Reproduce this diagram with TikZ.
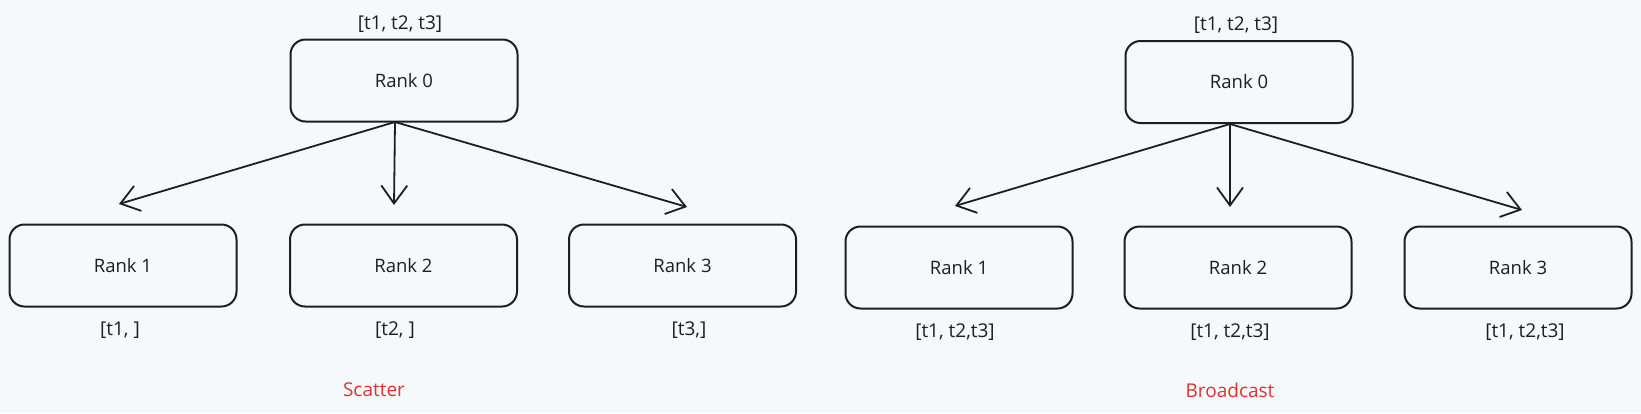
\documentclass[tikz,border=0pt]{standalone}
\usepackage{fontspec}
\setmainfont{Open Sans}
\usetikzlibrary{arrows.meta}
\definecolor{bg}{HTML}{F5F9FC}
\definecolor{ink}{HTML}{1E1E1E}
\definecolor{redtxt}{HTML}{E03131}
\tikzset{
  rankbox/.style={draw=ink, line width=2pt, rounded corners=15pt, minimum width=227pt, minimum height=82pt, inner sep=0pt, text=ink, font=\fontsize{18.5}{20}\selectfont},
  lbl/.style={text=ink, inner sep=0pt, font=\fontsize{19}{21}\selectfont},
  captxt/.style={text=redtxt, inner sep=0pt, font=\fontsize{19}{21}\selectfont},
  conn/.style={draw=ink, line width=1.8pt, -{Straight Barb[length=18pt, width=26pt, line width=1.8pt]}}
}
\begin{document}
\begin{tikzpicture}[x=1pt,y=-1pt]
\fill[bg] (0,0) rectangle (1641,413);
\useasboundingbox (0,0) rectangle (1641,413);
% Scatter
\node[rankbox] (s0) at (404,80.5) {Rank 0};
\node[rankbox] (s1) at (123,265.5) {Rank 1};
\node[rankbox] (s2) at (403.5,265.5) {Rank 2};
\node[rankbox] (s3) at (682.5,265.5) {Rank 3};
\node[lbl] (sl0) at (400,24) {[t1, t2, t3]};
\node[lbl] (sl1) at (120,330) {[t1, ]};
\node[lbl] (sl2) at (395,330) {[t2, ]};
\node[lbl] (sl3) at (689,330) {[t3,]};
\node[captxt] (scap) at (374,390) {Scatter};
\coordinate (so) at (395,122);
\coordinate (st1) at (119,204);
\coordinate (st2) at (394,205);
\coordinate (st3) at (687,207);
\draw[conn] (so) -- (st1);
\draw[conn] (so) -- (st2);
\draw[conn] (so) -- (st3);
% Broadcast
\node[rankbox] (b0) at (1239,82) {Rank 0};
\node[rankbox] (b1) at (959,267.5) {Rank 1};
\node[rankbox] (b2) at (1238,267.5) {Rank 2};
\node[rankbox] (b3) at (1518,267.5) {Rank 3};
\node[lbl] (bl0) at (1236,25) {[t1, t2, t3]};
\node[lbl] (bl1) at (955,332) {[t1, t2,t3]};
\node[lbl] (bl2) at (1230,332) {[t1, t2,t3]};
\node[lbl] (bl3) at (1525,332) {[t1, t2,t3]};
\node[captxt] (bcap) at (1230,390) {Broadcast};
\coordinate (bo) at (1230,124);
\coordinate (bt1) at (955,206);
\coordinate (bt2) at (1230,207);
\coordinate (bt3) at (1522,210);
\draw[conn] (bo) -- (bt1);
\draw[conn] (bo) -- (bt2);
\draw[conn] (bo) -- (bt3);
\end{tikzpicture}
\end{document}
